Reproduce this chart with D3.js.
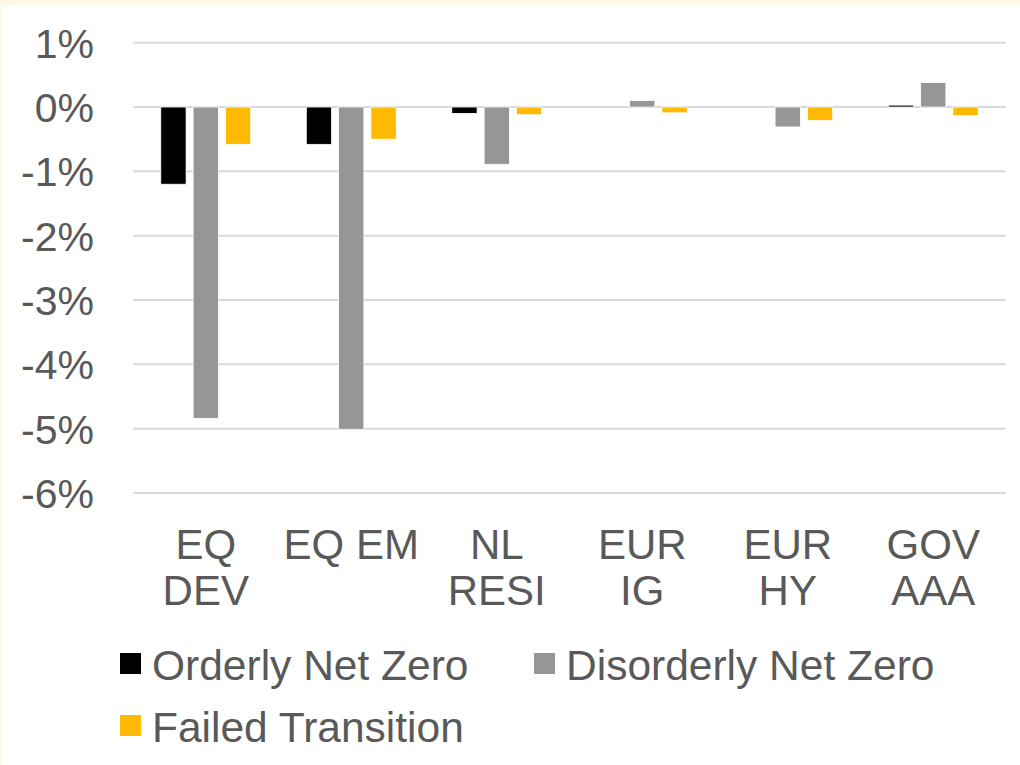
<!DOCTYPE html>
<html>
<head>
<meta charset="utf-8">
<script src="https://cdn.jsdelivr.net/npm/d3@7"></script>
<style>
  body { margin: 0; background: #FFF8E5; }
  svg { display: block; }
  text { font-family: "Liberation Sans", Arial, sans-serif; fill: #595959; }
</style>
</head>
<body>
<svg id="chart" width="1020" height="765"></svg>
<script>
const categories = [["EQ", "DEV"], ["EQ EM"], ["NL", "RESI"], ["EUR", "IG"], ["EUR", "HY"], ["GOV", "AAA"]];
const series = ["Orderly Net Zero", "Disorderly Net Zero", "Failed Transition"];
const colors = ["#000000", "#969696", "#FFB900"];
const orderly = [-1.2, -0.58, -0.1, 0, 0, 0.03];
const disorderly = [-4.84, -5.01, -0.89, 0.1, -0.31, 0.38];
const failed = [-0.58, -0.5, -0.12, -0.09, -0.21, -0.135];
const yTicks = [1, 0, -1, -2, -3, -4, -5, -6];

const values = [orderly, disorderly, failed];
const keys = categories.map(c => c.join(" "));

const svg = d3.select("#chart");
svg.append("rect")
    .attr("x", 2).attr("y", 5)
    .attr("width", 1018).attr("height", 760)
    .attr("fill", "#ffffff");

const x0 = d3.scaleBand()
    .domain(keys)
    .range([133, 1006]);
const x1 = d3.scaleBand()
    .domain(series)
    .range([0, x0.bandwidth()])
    .paddingInner(0.217)
    .paddingOuter(0.86);
const y = d3.scaleLinear()
    .domain([1, -6])
    .range([42.7, 493]);

// gridlines
svg.append("g")
    .selectAll("line")
    .data(yTicks)
    .join("line")
    .attr("x1", 133).attr("x2", 1006)
    .attr("y1", d => y(d)).attr("y2", d => y(d))
    .attr("stroke", "#D9D9D9")
    .attr("stroke-width", 2);

// y labels
svg.append("g")
    .selectAll("text")
    .data(yTicks)
    .join("text")
    .attr("x", 94)
    .attr("y", d => y(d) + 15)
    .attr("text-anchor", "end")
    .attr("font-size", 41)
    .text(d => d + "%");

// bars
series.forEach((s, i) => {
    svg.append("g")
        .selectAll("rect")
        .data(values[i])
        .join("rect")
        .attr("x", (d, j) => x0(keys[j]) + x1(s))
        .attr("width", x1.bandwidth())
        .attr("y", d => y(Math.max(0, d)))
        .attr("height", d => Math.abs(y(d) - y(0)))
        .attr("fill", colors[i])
        .attr("stroke", "#ffffff")
        .attr("stroke-width", 0.8);
});

// category labels
const cat = svg.append("g")
    .selectAll("text")
    .data(categories)
    .join("text")
    .attr("text-anchor", "middle")
    .attr("font-size", 42)
    .attr("transform", (d, j) => `translate(${x0(keys[j]) + x0.bandwidth() / 2},0)`);
cat.each(function(d) {
    const t = d3.select(this);
    d.forEach((line, k) => {
        t.append("tspan").attr("x", 0).attr("y", 559 + k * 46).text(line);
    });
});

// legend
const legendPos = [[120, 680], [534, 680], [120, 742]];
const legend = svg.append("g")
    .selectAll("g")
    .data(series)
    .join("g")
    .attr("transform", (d, i) => `translate(${legendPos[i][0]},${legendPos[i][1]})`);
legend.append("rect")
    .attr("x", 0).attr("y", -27)
    .attr("width", 21).attr("height", 21)
    .attr("fill", (d, i) => colors[i]);
legend.append("text")
    .attr("x", 32)
    .attr("y", 0)
    .attr("font-size", 42.5)
    .text(d => d);
</script>
</body>
</html>
